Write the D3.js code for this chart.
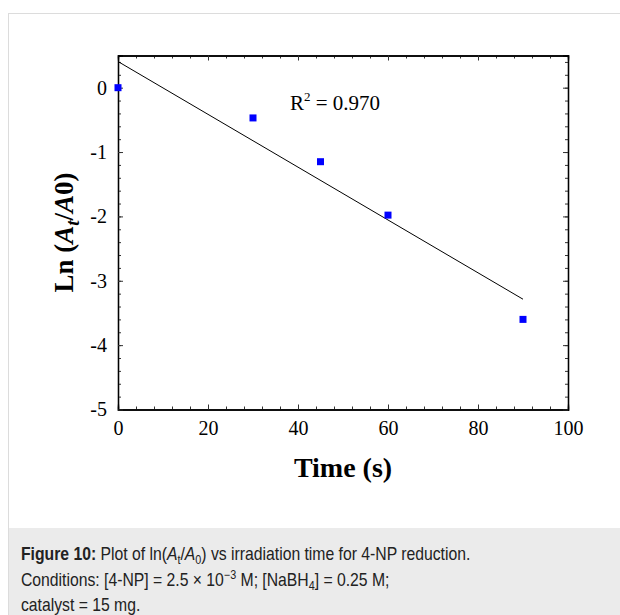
<!DOCTYPE html>
<html><head><meta charset="utf-8">
<script src="https://cdn.jsdelivr.net/npm/d3@7"></script>
<style>
body{margin:0;background:#fff;}
svg{display:block;}
</style></head>
<body>
<svg id="chart" width="620" height="615"></svg>
<script>
const times = [0, 30, 45, 60, 90];
const lnValues = [0, -0.47, -1.15, -1.98, -3.6];
const xTicks = [0, 20, 40, 60, 80, 100];
const yTicks = [0, -1, -2, -3, -4, -5];
const r2Label = "0.970";

const svg = d3.select("#chart");
// panel frame
svg.append("rect").attr("x", 8.5).attr("y", 13.5).attr("width", 640).attr("height", 620)
  .attr("fill", "#fff").attr("stroke", "#dcdcdc").attr("stroke-width", 1);
svg.append("rect").attr("x", 9).attr("y", 528).attr("width", 620).attr("height", 100)
  .attr("fill", "#ebebeb");

const L = 118, R = 568, T = 55.5, B = 409.5;
const x = d3.scaleLinear().domain([0, 100]).range([L, R]);
const y = d3.scaleLinear().domain([-5, 0.5]).range([B, T]);

const serif = "'Liberation Serif','Times New Roman',serif";
const g = svg.append("g");
const fmt = d => String(d);

const minorX = d3.range(0, 100.01, 4);
const minorY = d3.range(-5, 0.51, 0.2);
function addAxis(axis, tx, ty) {
  return g.append("g").attr("transform", `translate(${tx},${ty})`).call(axis);
}
addAxis(d3.axisBottom(x).tickValues(minorX).tickSize(-3).tickFormat(""), 0, B);
addAxis(d3.axisBottom(x).tickValues(xTicks).tickSize(-5).tickPadding(11).tickFormat(fmt), 0, B);
addAxis(d3.axisTop(x).tickValues(minorX).tickSize(-3).tickFormat(""), 0, T);
addAxis(d3.axisTop(x).tickValues(xTicks).tickSize(-5).tickFormat(""), 0, T);
addAxis(d3.axisLeft(y).tickValues(minorY).tickSize(-3).tickFormat(""), L, 0);
const leftMajor = addAxis(d3.axisLeft(y).tickValues(yTicks).tickSize(-5).tickPadding(11).tickFormat(fmt), L, 0);
addAxis(d3.axisRight(y).tickValues(minorY).tickSize(-3).tickFormat(""), R, 0);
addAxis(d3.axisRight(y).tickValues(yTicks).tickSize(-5).tickFormat(""), R, 0);

g.selectAll(".domain").attr("stroke", "#000").attr("stroke-width", 1.3);
g.selectAll(".tick line").attr("stroke", "#333").attr("stroke-width", 1);
g.selectAll(".tick text").attr("font-family", serif).attr("font-size", 20).attr("fill", "#000");
leftMajor.selectAll(".tick text").attr("dx", "0");

// regression line computed from data
const mx = d3.mean(times), my = d3.mean(lnValues);
const sxy = d3.sum(times, (t, i) => (t - mx) * (lnValues[i] - my));
const sxx = d3.sum(times, t => (t - mx) * (t - mx));
const slope = sxy / sxx, icpt = my - slope * mx;
const x0 = d3.min(times), x1 = d3.max(times);
g.append("line")
  .attr("x1", x(x0)).attr("y1", y(icpt + slope * x0))
  .attr("x2", x(x1)).attr("y2", y(icpt + slope * x1))
  .attr("stroke", "#000").attr("stroke-width", 1);

// markers
const ms = 7;
g.selectAll("rect.pt").data(times).join("rect").attr("class", "pt")
  .attr("x", d => x(d) - ms / 2)
  .attr("y", (d, i) => y(lnValues[i]) - ms / 2)
  .attr("width", ms).attr("height", ms)
  .attr("fill", "#0000ff");

// R^2 label
const rt = g.append("text").attr("x", 290).attr("y", 110)
  .attr("font-family", serif).attr("font-size", 21).attr("fill", "#000");
rt.append("tspan").text("R");
rt.append("tspan").attr("font-size", 13).attr("dy", -9).text("2");
rt.append("tspan").attr("dy", 9).text(" = " + r2Label);

// axis titles
g.append("text").attr("x", (L + R) / 2).attr("y", 477).attr("text-anchor", "middle")
  .attr("font-family", serif).attr("font-weight", "bold").attr("font-size", 28).text("Time (s)");

const yt = g.append("text").attr("transform", `translate(73,${(T + B) / 2}) rotate(-90)`)
  .attr("text-anchor", "middle").attr("font-family", serif).attr("font-weight", "bold").attr("font-size", 27);
yt.append("tspan").text("Ln (");
yt.append("tspan").attr("font-style", "italic").text("A");
yt.append("tspan").attr("font-style", "italic").attr("font-size", 19).attr("dy", 6).text("t");
yt.append("tspan").attr("dy", -6).text("/");
yt.append("tspan").attr("font-style", "italic").text("A");
yt.append("tspan").text("0)");

// caption
const sans = "'Liberation Sans',Arial,sans-serif";
const cap = svg.append("g").attr("transform", "translate(21,0) scale(0.9,1)")
  .attr("font-family", sans).attr("font-size", 17.5).attr("fill", "#222");
const l1 = cap.append("text").attr("x", 0).attr("y", 560);
l1.append("tspan").attr("font-weight", "bold").text("Figure 10:");
l1.append("tspan").text(" Plot of ln(");
l1.append("tspan").attr("font-style", "italic").text("A");
l1.append("tspan").attr("font-size", 12).attr("dy", 4).text("t");
l1.append("tspan").attr("dy", -4).text("/");
l1.append("tspan").attr("font-style", "italic").text("A");
l1.append("tspan").attr("font-size", 12).attr("dy", 4).text("0");
l1.append("tspan").attr("dy", -4).text(") vs irradiation time for 4-NP reduction.");
const l2 = cap.append("text").attr("x", 0).attr("y", 586);
l2.append("tspan").text("Conditions: [4-NP] = 2.5 × 10");
l2.append("tspan").attr("font-size", 12).attr("dy", -7).text("−3");
l2.append("tspan").attr("dy", 7).text(" M; [NaBH");
l2.append("tspan").attr("font-size", 12).attr("dy", 4).text("4");
l2.append("tspan").attr("dy", -4).text("] = 0.25 M;");
cap.append("text").attr("x", 0).attr("y", 611).text("catalyst = 15 mg.");
</script>
</body></html>
